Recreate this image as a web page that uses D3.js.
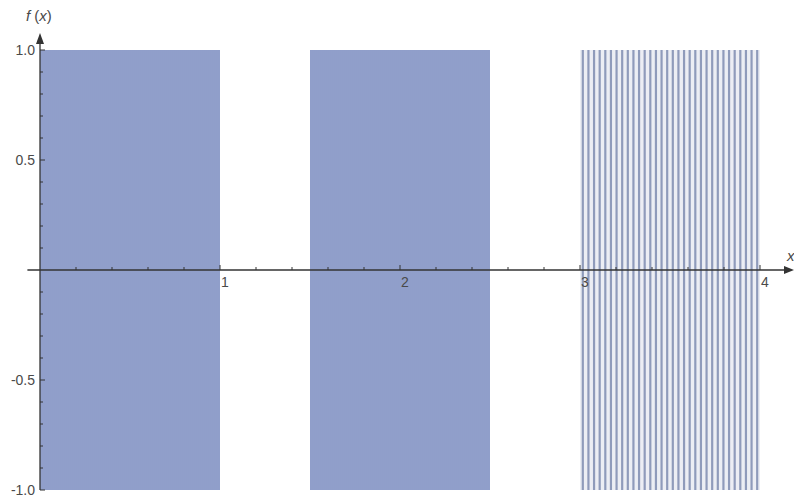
<!DOCTYPE html>
<html>
<head>
<meta charset="utf-8">
<script src="https://cdn.jsdelivr.net/npm/d3@7"></script>
<style>
  html, body { margin: 0; padding: 0; background: #fff; }
  svg { display: block; font-family: "Liberation Sans", Arial, sans-serif; }
</style>
</head>
<body>
<svg id="chart" width="794" height="504"></svg>
<script>
// f(x) is only defined on three unit pieces; each piece oscillates between -1 and 1
const pieceStart = [0, 1.5, 3];
const pieceEnd = [1, 2.5, 4];
const pieceCycles = [90, 90, 32];   // visible oscillations per piece
const pieceLow = [-1, -1, -1];
const pieceHigh = [1, 1, 1];

const xTicks = [1, 2, 3, 4];
const xTickLabels = ["1", "2", "3", "4"];
const yTicks = [-1, -0.5, 0.5, 1];
const yTickLabels = ["-1.0", "-0.5", "0.5", "1.0"];

const W = 794, H = 504;
const svg = d3.select("#chart");

const x = d3.scaleLinear().domain([0, 4]).range([40, 760]);
const y = d3.scaleLinear().domain([-1, 1]).range([490, 50]);

// piece styling: dense pieces look like a filled band, the last one shows separate strokes
const pieceStyle = [
  { stroke: "#8898c6", width: 1.4, bg: "#a4afd4" },
  { stroke: "#8898c6", width: 1.4, bg: "#a4afd4" },
  { stroke: "#8f9bbb", width: 2.2, bg: "#eceef4" },
];

const pieces = pieceStart.map((s, i) => ({
  start: s,
  end: pieceEnd[i],
  n: pieceCycles[i],
  lo: pieceLow[i],
  hi: pieceHigh[i],
  style: pieceStyle[i],
}));

const plot = svg.append("g");

pieces.forEach((p) => {
  const g = plot.append("g");
  // faint band behind the strokes
  g.append("rect")
    .attr("x", x(p.start))
    .attr("y", y(p.hi))
    .attr("width", x(p.end) - x(p.start))
    .attr("height", y(p.lo) - y(p.hi))
    .attr("fill", p.style.bg);
  const step = (p.end - p.start) / p.n;
  const peaks = d3.range(p.n).map((k) => p.start + (k + 0.5) * step);
  g.selectAll("line")
    .data(peaks)
    .join("line")
    .attr("x1", (d) => x(d))
    .attr("x2", (d) => x(d))
    .attr("y1", y(p.lo))
    .attr("y2", y(p.hi))
    .attr("stroke", p.style.stroke)
    .attr("stroke-width", p.style.width);
});

// axes
const axisColor = "#333";
const ax = svg.append("g").attr("stroke", axisColor).attr("fill", "none");

// x axis
ax.append("line")
  .attr("x1", x(-0.07)).attr("x2", W - 6)
  .attr("y1", y(0)).attr("y2", y(0))
  .attr("stroke-width", 1.3);
svg.append("path")
  .attr("d", `M${W},${y(0)} L${W - 10},${y(0) - 4} L${W - 10},${y(0) + 4} Z`)
  .attr("fill", axisColor);

// y axis
ax.append("line")
  .attr("x1", x(0)).attr("x2", x(0))
  .attr("y1", y(-1)).attr("y2", 42)
  .attr("stroke-width", 1.3);
svg.append("path")
  .attr("d", `M${x(0)},33 L${x(0) - 4},44 L${x(0) + 4},44 Z`)
  .attr("fill", axisColor);

// x ticks (every 0.2, major on integers), pointing up
d3.range(1, 21).map((i) => i / 5).forEach((t) => {
  const major = Math.abs(t - Math.round(t)) < 1e-9;
  ax.append("line")
    .attr("x1", x(t)).attr("x2", x(t))
    .attr("y1", y(0)).attr("y2", y(0) - (major ? 5 : 3))
    .attr("stroke-width", 1);
});

// y ticks (every 0.1, major every 0.5), pointing right
d3.range(-10, 11).filter((i) => i !== 0).map((i) => i / 10).forEach((t) => {
  const major = Math.abs(t * 2 - Math.round(t * 2)) < 1e-9;
  ax.append("line")
    .attr("x1", x(0)).attr("x2", x(0) + (major ? 5 : 3))
    .attr("y1", y(t)).attr("y2", y(t))
    .attr("stroke-width", 1);
});

const labelColor = "#4a4a4a";
svg.append("g")
  .selectAll("text")
  .data(xTicks)
  .join("text")
  .attr("x", (d) => x(d) + 5)
  .attr("y", y(0) + 17)
  .attr("text-anchor", "middle")
  .attr("font-size", 14)
  .attr("fill", labelColor)
  .text((d, i) => xTickLabels[i]);

svg.append("g")
  .selectAll("text")
  .data(yTicks)
  .join("text")
  .attr("x", x(0) - 5)
  .attr("y", (d) => y(d))
  .attr("dy", "0.35em")
  .attr("text-anchor", "end")
  .attr("font-size", 14)
  .attr("fill", labelColor)
  .text((d, i) => yTickLabels[i]);

// axis names
const fx = svg.append("text")
  .attr("x", x(0) - 14)
  .attr("y", 21)
  .attr("font-size", 15)
  .attr("fill", labelColor);
fx.append("tspan").attr("font-style", "italic").text("f");
fx.append("tspan").text(" (");
fx.append("tspan").attr("font-style", "italic").text("x");
fx.append("tspan").text(")");

svg.append("text")
  .attr("x", W - 7)
  .attr("y", y(0) - 9)
  .attr("font-size", 15)
  .attr("font-style", "italic")
  .attr("fill", labelColor)
  .text("x");
</script>
</body>
</html>
